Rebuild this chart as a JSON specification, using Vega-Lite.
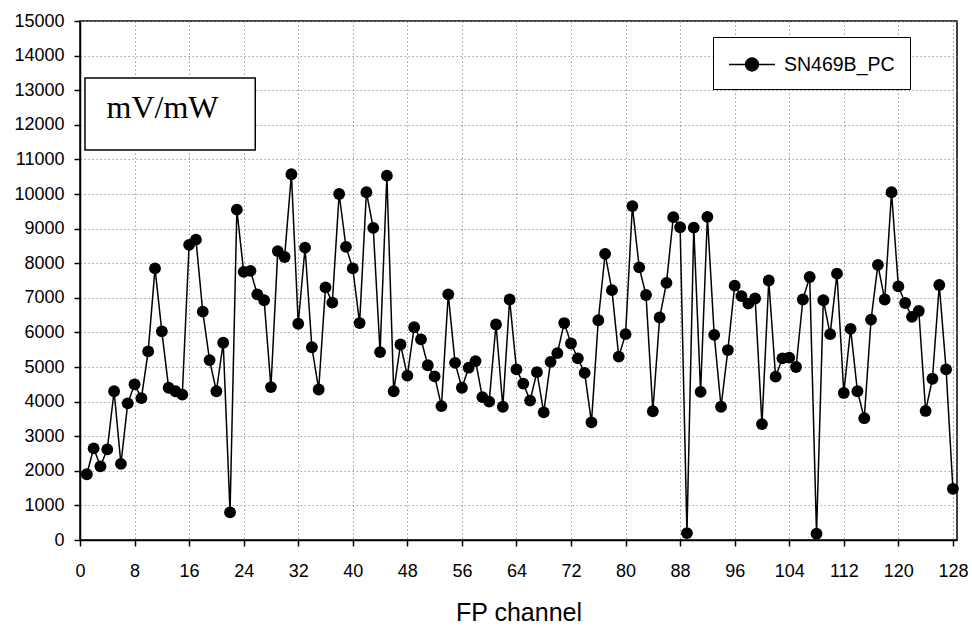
{
  "$schema": "https://vega.github.io/schema/vega-lite/v6.json",
  "width": 877,
  "height": 519,
  "autosize": "none",
  "padding": {"left": 80, "top": 21, "right": 15, "bottom": 88},
  "background": "white",
  "config": {
    "view": {"stroke": "black", "strokeWidth": 1.5},
    "axis": {
      "domainColor": "black", "domainWidth": 1.5,
      "tickColor": "black", "tickWidth": 1.5, "tickSize": 6,
      "gridColor": "#9a9a9a", "gridDash": [1.5, 2.5], "gridWidth": 1,
      "labelFont": "Liberation Sans", "labelFontSize": 18, "labelColor": "black",
      "labelFlush": false, "labelOverlap": false,
      "titleFont": "Liberation Sans", "titleFontSize": 25, "titleFontWeight": "normal", "titleColor": "black"
    },
    "legend": {
      "orient": "none", "legendX": 633, "legendY": 16, "title": null,
      "symbolType": "M-1,0L3,0M0.435,0A0.565,0.565,0,1,1,1.565,0A0.565,0.565,0,1,1,0.435,0Z",
      "symbolSize": 529, "symbolFillColor": "black", "symbolStrokeColor": "black", "symbolStrokeWidth": 1.5, "symbolOpacity": 1,
      "labelFont": "Liberation Sans", "labelFontSize": 19.5, "labelColor": "black", "labelOffset": 31,
      "padding": 15, "strokeColor": "black", "fillColor": "white", "cornerRadius": 0
    }
  },
  "data": {"values": [
    {"ch":1,"v":1900},{"ch":2,"v":2650},{"ch":3,"v":2130},{"ch":4,"v":2620},{"ch":5,"v":4300},
    {"ch":6,"v":2200},{"ch":7,"v":3950},{"ch":8,"v":4500},{"ch":9,"v":4100},{"ch":10,"v":5450},
    {"ch":11,"v":7850},{"ch":12,"v":6030},{"ch":13,"v":4400},{"ch":14,"v":4300},{"ch":15,"v":4200},
    {"ch":16,"v":8530},{"ch":17,"v":8680},{"ch":18,"v":6600},{"ch":19,"v":5200},{"ch":20,"v":4300},
    {"ch":21,"v":5700},{"ch":22,"v":800},{"ch":23,"v":9550},{"ch":24,"v":7750},{"ch":25,"v":7780},
    {"ch":26,"v":7100},{"ch":27,"v":6930},{"ch":28,"v":4420},{"ch":29,"v":8350},{"ch":30,"v":8180},
    {"ch":31,"v":10570},{"ch":32,"v":6250},{"ch":33,"v":8450},{"ch":34,"v":5570},{"ch":35,"v":4350},
    {"ch":36,"v":7300},{"ch":37,"v":6860},{"ch":38,"v":10000},{"ch":39,"v":8470},{"ch":40,"v":7850},
    {"ch":41,"v":6270},{"ch":42,"v":10050},{"ch":43,"v":9020},{"ch":44,"v":5430},{"ch":45,"v":10530},
    {"ch":46,"v":4300},{"ch":47,"v":5650},{"ch":48,"v":4750},{"ch":49,"v":6150},{"ch":50,"v":5800},
    {"ch":51,"v":5050},{"ch":52,"v":4730},{"ch":53,"v":3870},{"ch":54,"v":7100},{"ch":55,"v":5120},
    {"ch":56,"v":4400},{"ch":57,"v":4980},{"ch":58,"v":5170},{"ch":59,"v":4130},{"ch":60,"v":4000},
    {"ch":61,"v":6230},{"ch":62,"v":3850},{"ch":63,"v":6950},{"ch":64,"v":4930},{"ch":65,"v":4520},
    {"ch":66,"v":4030},{"ch":67,"v":4850},{"ch":68,"v":3690},{"ch":69,"v":5150},{"ch":70,"v":5400},
    {"ch":71,"v":6270},{"ch":72,"v":5680},{"ch":73,"v":5250},{"ch":74,"v":4830},{"ch":75,"v":3400},
    {"ch":76,"v":6350},{"ch":77,"v":8270},{"ch":78,"v":7220},{"ch":79,"v":5300},{"ch":80,"v":5950},
    {"ch":81,"v":9650},{"ch":82,"v":7880},{"ch":83,"v":7080},{"ch":84,"v":3720},{"ch":85,"v":6430},
    {"ch":86,"v":7430},{"ch":87,"v":9330},{"ch":88,"v":9040},{"ch":89,"v":200},{"ch":90,"v":9030},
    {"ch":91,"v":4280},{"ch":92,"v":9340},{"ch":93,"v":5930},{"ch":94,"v":3850},{"ch":95,"v":5490},
    {"ch":96,"v":7350},{"ch":97,"v":7050},{"ch":98,"v":6830},{"ch":99,"v":6980},{"ch":100,"v":3350},
    {"ch":101,"v":7500},{"ch":102,"v":4720},{"ch":103,"v":5250},{"ch":104,"v":5270},{"ch":105,"v":5000},
    {"ch":106,"v":6950},{"ch":107,"v":7600},{"ch":108,"v":180},{"ch":109,"v":6930},{"ch":110,"v":5950},
    {"ch":111,"v":7700},{"ch":112,"v":4250},{"ch":113,"v":6100},{"ch":114,"v":4300},{"ch":115,"v":3520},
    {"ch":116,"v":6370},{"ch":117,"v":7950},{"ch":118,"v":6950},{"ch":119,"v":10050},{"ch":120,"v":7330},
    {"ch":121,"v":6850},{"ch":122,"v":6450},{"ch":123,"v":6620},{"ch":124,"v":3730},{"ch":125,"v":4660},
    {"ch":126,"v":7370},{"ch":127,"v":4930},{"ch":128,"v":1480}
  ]},
  "encoding": {
    "x": {"field": "ch", "type": "quantitative",
      "scale": {"domain": [0, 128.6], "nice": false, "zero": false},
      "axis": {"title": "FP channel", "values": [0,8,16,24,32,40,48,56,64,72,80,88,96,104,112,120,128],
        "labelPadding": 16, "titlePadding": 20, "grid": true}},
    "y": {"field": "v", "type": "quantitative",
      "scale": {"domain": [0, 15000], "nice": false},
      "axis": {"title": null, "format": "d", "values": [0,1000,2000,3000,4000,5000,6000,7000,8000,9000,10000,11000,12000,13000,14000,15000],
        "labelPadding": 10, "grid": true}}
  },
  "layer": [
    {
      "transform": [{"filter": "datum.ch == 1"}],
      "mark": {"type": "rect", "fill": "white", "stroke": "black", "strokeWidth": 1.5},
      "encoding": {
        "x": {"datum": 0.73, "type": "quantitative"},
        "x2": {"datum": 25.7},
        "y": {"datum": 13350, "type": "quantitative"},
        "y2": {"datum": 11270}
      }
    },
    {
      "transform": [{"filter": "datum.ch == 1"}],
      "mark": {"type": "text", "font": "Liberation Serif", "fontSize": 32, "fill": "black", "align": "center", "baseline": "alphabetic"},
      "encoding": {
        "x": {"datum": 12.1, "type": "quantitative"},
        "y": {"datum": 12200, "type": "quantitative"},
        "text": {"value": "mV/mW"}
      }
    },
    {
      "mark": {"type": "line", "strokeWidth": 1.5},
      "encoding": {
        "color": {"datum": "SN469B_PC", "type": "nominal", "scale": {"range": ["black"]}}
      }
    },
    {
      "mark": {"type": "point", "filled": true, "size": 140, "opacity": 1},
      "encoding": {
        "color": {"datum": "SN469B_PC", "type": "nominal", "scale": {"range": ["black"]}}
      }
    }
  ]
}
